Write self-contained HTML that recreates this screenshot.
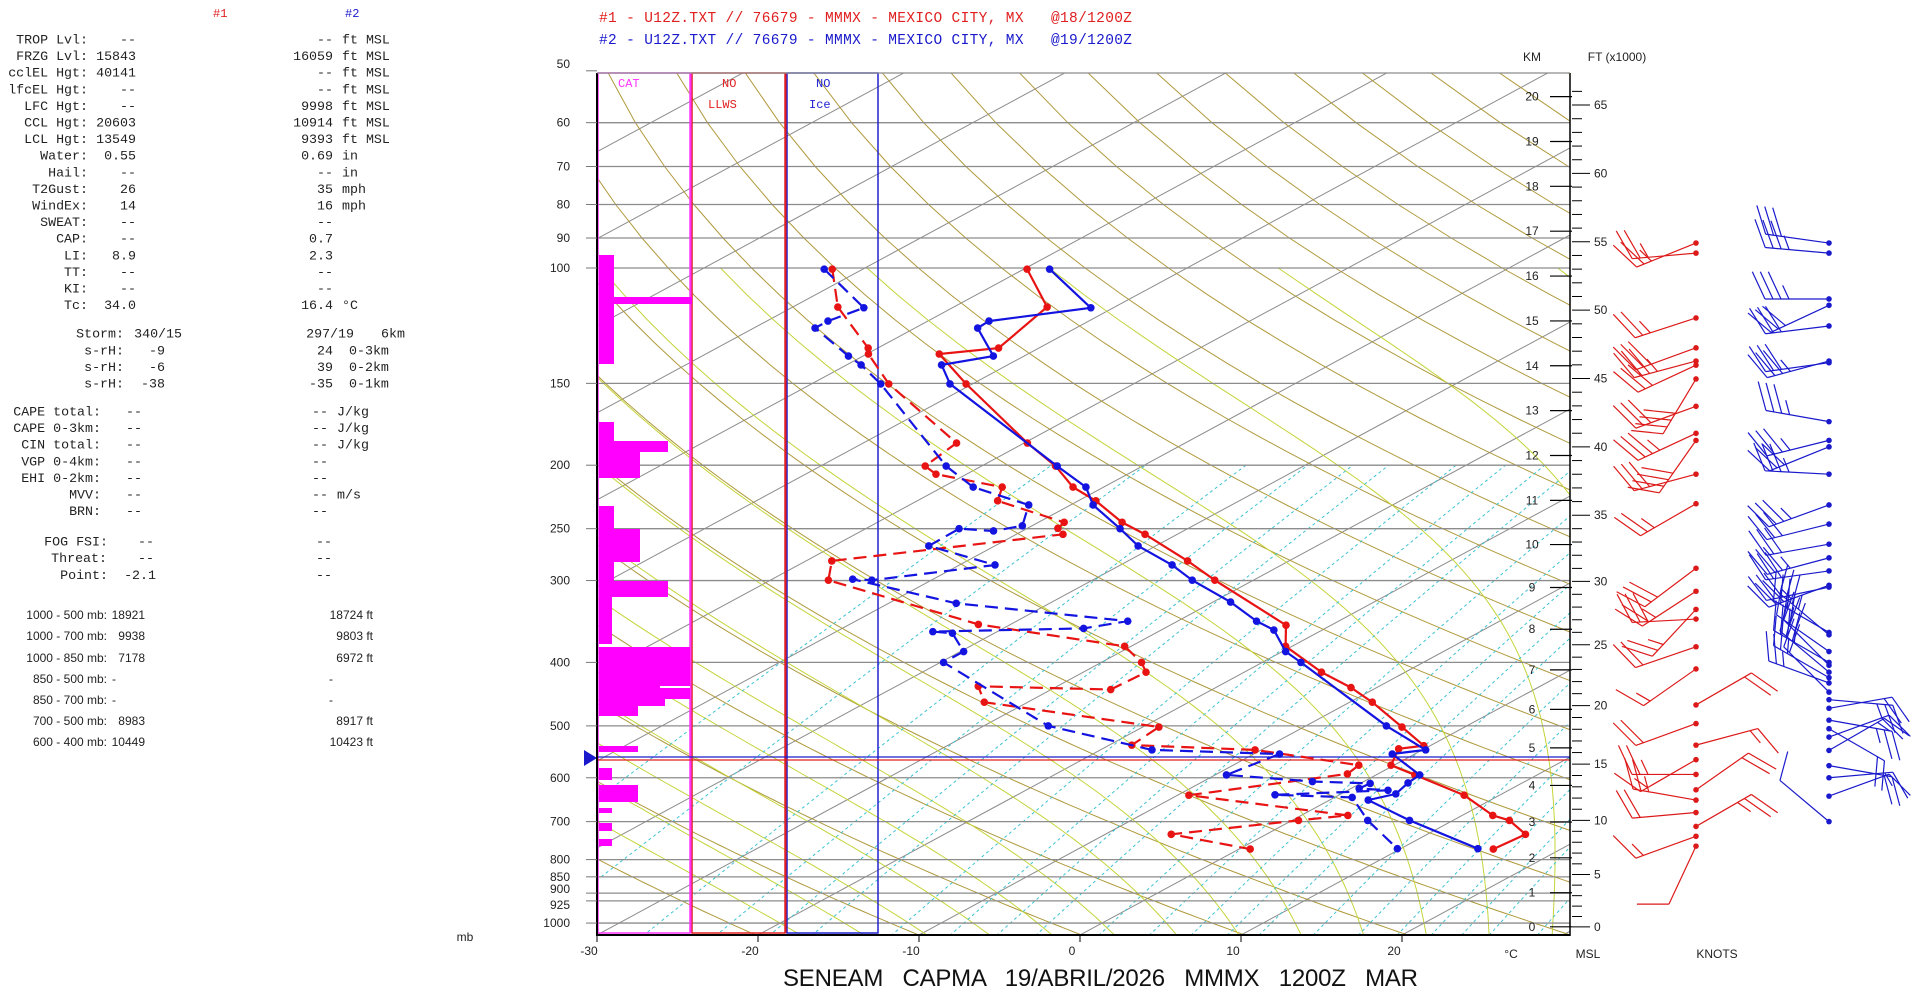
<!DOCTYPE html>
<html><head><meta charset="utf-8"><title>Skew-T MMMX</title>
<style>
html,body{margin:0;padding:0;background:#fff;}
#chart{position:absolute;left:0;top:0;}
</style></head>
<body>
<svg id="chart" width="1920" height="997" viewBox="0 0 1920 997" xmlns="http://www.w3.org/2000/svg">
<defs><clipPath id="plotclip"><rect x="598" y="73" width="972" height="862"/></clipPath></defs>
<g id="grid" clip-path="url(#plotclip)"></g>
<g id="overlay"></g>
<g id="profiles" clip-path="url(#plotclip)"></g>
<g id="axes"></g>
<g id="winds"></g>
<g id="panel" font-family="'Liberation Mono', monospace" font-size="13.3" fill="#222"></g>
</svg>
<script>
// ---------- data ----------
const pressureLevels = [50,60,70,80,90,100,150,200,250,300,400,500,600,700,800,850,900,925,1000];
const tempTicks = [-30,-20,-10,0,10,20];

const t1P = [100.4,114.7,132.5,135.3,150.3,185,200.6,216,226.7,244.5,255,280,299.6,351,378,414,437,460,502,536,542,574,594,638,685,697,732,771];
const t1T = [-79.8,-74.2,-72.5,-75.5,-70.4,-59.8,-55.4,-51.9,-48.9,-44.8,-42.0,-36.3,-32.4,-22.8,-20.4,-15.2,-11.6,-8.6,-3.9,-0.4,-1.6,-0.2,2.4,7.8,11.9,13.5,16.1,15.8];
const t2P = [100.4,115,120.5,123.5,136.3,140.6,150.3,200.6,216,230,250,265.6,284,299.6,323.6,346,357,385,400,500,544,552,594,611,635,649,697,770];
const t2T = [-78.4,-71.4,-76.2,-76.1,-71.9,-74.1,-71.4,-55.3,-51.1,-48.6,-44.2,-41.1,-36.8,-33.8,-28.9,-25.1,-23.0,-19.8,-17.6,-5.0,0.2,-1.4,2.7,2.9,3.4,2.4,7.3,14.8];
const d1P = [100.4,114.7,132.5,135.3,150.3,185,200.6,206.4,216,226.7,244.5,249.7,255,280,299.6,350,378,400,414,440,435,460,502,535,544,574,592,638,685,697,732,771];
const d1T = [-91.9,-87.2,-80.6,-79.9,-75.2,-64.2,-63.5,-61.9,-56.3,-55.0,-48.4,-48.1,-47.1,-58.4,-56.4,-42.0,-30.4,-27.5,-26.1,-26.3,-34.9,-32.7,-19.0,-18.6,-10.4,-2.2,-1.9,-9.3,2.9,0.4,-5.9,0.7];
const d2P = [100.4,115,120.5,123.5,136.3,140.6,150.3,200.6,216,230,247.5,252,250,265.6,284,299.6,298.6,325,346,355,359,361,385,400,500,544,552,594,608,612,623,627,637,643,697,770];
const d2T = [-92.4,-85.5,-86.2,-86.2,-80.9,-79.1,-75.7,-62.2,-58.1,-52.6,-50.6,-51.8,-54.2,-54.1,-47.8,-53.7,-55.0,-45.8,-33.1,-35.0,-44.0,-42.6,-39.8,-39.8,-26.0,-16.8,-8.4,-9.3,-3.2,0.6,0.5,2.5,-4.0,1.1,4.7,9.8];

const w1P = [91.6,94.9,119.2,132.4,138.7,140.7,147.7,162.6,178.8,183.3,206.4,229,287.3,311.5,332,343.5,378.6,409.3,464.5,496,535,563,593,626,649,678,712,737,763];
const w1D = [248,265,252,250,255,245,211,250,245,215,255,240,233,237,223,267,251,235,60,250,75,240,270,55,280,265,60,250,205];
const w1S = [25,25,25,30,35,30,40,30,35,40,30,25,30,25,25,30,20,15,20,20,15,15,25,20,25,20,25,15,10];
const w2P = [91.6,94.9,111.5,114,122.6,138.7,139.5,171.6,183.3,187.5,206.4,230,246,264,277,290,305,307,360,363,385,400,404,414,422,430,444,456,470,490,505,520,545,575,600,640,700];
const w2D = [278,275,270,245,263,255,262,280,256,248,273,250,256,260,255,262,250,258,300,310,305,300,315,310,300,290,315,95,80,100,120,70,60,100,85,70,310];
const w2S = [30,35,35,30,30,35,30,35,35,30,35,35,30,30,35,30,35,30,30,35,30,35,30,30,25,25,20,25,20,25,20,20,15,20,15,10,10];

const kmTicks = [0,1,2,3,4,5,6,7,8,9,10,11,12,13,14,15,16,17,18,19,20];
const ftMajor = [0,5,10,15,20,25,30,35,40,45,50,55,60,65];

// ---------- axis functions ----------
const PX0=598, PX1=1570, PY0=73, PY1=935;
function Y(p){return 268 + 284.5*Math.log(p/100);}
function X(T,p){return 1080 + 16.1*T + 1.85*(935 - Y(p));}
function pOfZ(z){ if(z<=11000) return 1013.25*Math.pow(1-2.25577e-5*z,5.25588); return 226.32*Math.exp(-(z-11000)/6341.6);}
const NS='http://www.w3.org/2000/svg';
function mk(tag,attrs,parent){const e=document.createElementNS(NS,tag);for(const k in attrs)e.setAttribute(k,attrs[k]);parent.appendChild(e);return e;}
function pts(arr){return arr.map(a=>a[0].toFixed(1)+','+a[1].toFixed(1)).join(' ');}

const grid=document.getElementById('grid');
for(let T=-130;T<=40;T+=10){
  const l=mk('line',{x1:X(T,1060),y1:Y(1060),x2:X(T,45),y2:Y(45),stroke:'#8c8c8c','stroke-width':1},grid);
  
  
}
for(let th=220;th<=520;th+=10){
  const a=[];for(let p=1060;p>=45;p-=10){a.push([X(th*Math.pow(p/1000,0.2857)-273.15,p),Y(p)]);}
  const l=mk('polyline',{points:pts(a),fill:'none',stroke:'#b09a3c','stroke-width':1},grid);
  
  
}
function es(Tc){return 6.112*Math.exp(17.67*Tc/(Tc+243.5));}
for(let tw=-20;tw<=36;tw+=4){
  let T=tw+273.15;const a=[];
  let Tlow=T;for(let p=1000;p<1060;p+=2){const tc=Tlow-273.15,e=es(tc),rs=0.622*e/(p-e);const dTdp=(287*Tlow+2.5e6*rs)/(1004+2.5e6*2.5e6*rs*0.622/(287*Tlow*Tlow))/p;Tlow+=dTdp*2;}
  a.push([X(Tlow-273.15,1060),Y(1060)]);
  for(let p=1000;p>=100;p-=2){
    if(p%10===0)a.push([X(T-273.15,p),Y(p)]);
    const tc=T-273.15,e=es(tc),rs=0.622*e/(p-e);
    const dTdp=(287*T+2.5e6*rs)/(1004+2.5e6*2.5e6*rs*0.622/(287*T*T))/p;
    T-=dTdp*2;
  }
  const l=mk('polyline',{points:pts(a),fill:'none',stroke:'#c4d43a','stroke-width':1},grid);
  
  
}
[0.1,0.2,0.4,0.6,0.8,1,1.5,2,2.5,3,4,5,6,7,8,10,12,14,16,18,20,24,28,32,36,40].forEach(w=>{
  const a=[];for(let p=1060;p>=200;p-=10){const e=p*w/(622+w);const L=Math.log(e/6.112);a.push([X(243.5*L/(17.67-L),p),Y(p)]);}
  const l=mk('polyline',{points:pts(a),fill:'none',stroke:'#3cc3d2','stroke-width':1,'stroke-dasharray':'3,3'},grid);
  
  
});
pressureLevels.forEach(p=>{
  const l=mk('line',{x1:PX0,y1:Y(p),x2:PX1,y2:Y(p),stroke:'#8c8c8c','stroke-width':1.3},grid);
  
  
});

// ---------- overlay boxes ----------
const ov=document.getElementById('overlay');
const boxes=[[598,690,'#ff33ff','cat-box'],[692,785,'#e02020','llws-box'],[787,878,'#2020d0','ice-box']];
boxes.forEach(b=>{
  const r=mk('rect',{x:b[0],y:73,width:b[1]-b[0],height:860,fill:'none',stroke:b[2],'stroke-width':1.5},ov);
  
  
});
mk('line',{x1:691,y1:73,x2:691,y2:933,stroke:'#ff33ff','stroke-width':1},ov);
mk('line',{x1:786,y1:73,x2:786,y2:933,stroke:'#e02020','stroke-width':1},ov);
const catBars=[[255,364,614],[297,304,692],[422,478,614],[441,452,668],[452,478,640],[506,597,614],[529,562,640],[581,597,668],[597,644,612],[647,699,690],[699,706,665],[706,716,638],[746,752,638],[768,780,612],[785,802,638],[808,813,612],[823,831,612],[839,846,612]];
catBars.forEach(c=>{
  const r=mk('rect',{x:599,y:c[0],width:c[2]-599,height:c[1]-c[0],fill:'#ff00ff'},ov);
  
  
});
mk('rect',{x:660,y:686,width:30,height:2,fill:'#fff'},ov);
function txt(parent,x,y,s,attrs,name){const t=mk('text',Object.assign({x:x,y:y},attrs||{}),parent);t.textContent=s;return t;}
const mono={'font-family':"'Liberation Mono', monospace",'font-size':12};
txt(ov,618,87,'CAT',Object.assign({fill:'#ff33ff'},mono),'cat-label');
txt(ov,722,87,'NO',Object.assign({fill:'#e02020'},mono),'llws-no');
txt(ov,708,108,'LLWS',Object.assign({fill:'#e02020'},mono),'llws-label');
txt(ov,816,87,'NO',Object.assign({fill:'#2020d0'},mono),'ice-no');
txt(ov,809,108,'Ice',Object.assign({fill:'#2020d0'},mono),'ice-label');
mk('line',{x1:597,y1:757,x2:PX1,y2:757,stroke:'#1a1acc','stroke-width':1.3},ov);
mk('line',{x1:597,y1:760,x2:PX1,y2:760,stroke:'#e02020','stroke-width':1.3},ov);
const tri=mk('polygon',{points:'584,750 597,758 584,766',fill:'#1a1acc'},ov);



// ---------- profiles ----------
const prof=document.getElementById('profiles');
function drawProfile(P,T,color,dash,name){
  const a=P.map((p,i)=>[X(T[i],p),Y(p)]);
  const l=mk('polyline',{points:pts(a),fill:'none',stroke:color,'stroke-width':2.2},prof);
  if(dash)l.setAttribute('stroke-dasharray','13,7');
  
  
  a.forEach(q=>{const c=mk('circle',{cx:q[0],cy:q[1],r:3.8,fill:color},prof);
    
    });
}
drawProfile(d1P,d1T,'#e81414',true,'dewpoint-1');
drawProfile(d2P,d2T,'#1414e0',true,'dewpoint-2');
drawProfile(t1P,t1T,'#e81414',false,'temperature-1');
drawProfile(t2P,t2T,'#1414e0',false,'temperature-2');

// ---------- axes ----------
const ax=document.getElementById('axes');
mk('line',{x1:597,y1:73,x2:597,y2:936,stroke:'#000','stroke-width':2},ax);
mk('line',{x1:596,y1:935,x2:PX1,y2:935,stroke:'#000','stroke-width':2},ax);
mk('line',{x1:PX1,y1:73,x2:PX1,y2:936,stroke:'#000','stroke-width':1.5},ax);
mk('line',{x1:597,y1:73,x2:PX1,y2:73,stroke:'#8c8c8c','stroke-width':1.3},ax);
const sans={'font-family':"'Liberation Sans', sans-serif",'font-size':12,fill:'#222'};
const labelShift={50:-3,900:0,925:8};
pressureLevels.forEach(p=>{
  mk('line',{x1:586,y1:Y(p),x2:597,y2:Y(p),stroke:'#777','stroke-width':1},ax);
  const sh=(p in labelShift)?labelShift[p]:4;
  txt(ax,570,Y(p)+sh,String(p),Object.assign({'text-anchor':'end'},sans),'pressure-label');
});
tempTicks.forEach(t=>{
  const x=1080+16.1*t;
  mk('line',{x1:x,y1:935,x2:x,y2:942,stroke:'#000','stroke-width':1},ax);
  txt(ax,x-8,955,String(t),Object.assign({'text-anchor':'middle'},sans),'temp-tick-label');
});
txt(ax,1511,958,'°C',Object.assign({'text-anchor':'middle'},sans),'temp-unit');
txt(ax,1588,958,'MSL',Object.assign({'text-anchor':'middle'},sans),'msl-label');
txt(ax,1717,958,'KNOTS',Object.assign({'text-anchor':'middle'},sans),'knots-label');
txt(ax,465,941,'mb',Object.assign({'text-anchor':'middle'},sans),'mb-label');
txt(ax,1532,61,'KM',Object.assign({'text-anchor':'middle','font-size':10},sans),'km-label');
txt(ax,1617,61,'FT (x1000)',Object.assign({'text-anchor':'middle','font-size':10},sans),'ft-label');
kmTicks.forEach(k=>{
  const y=Y(pOfZ(k*1000));
  mk('line',{x1:1550,y1:y,x2:1572,y2:y,stroke:'#000','stroke-width':1.2},ax);
  txt(ax,1532,y+4,String(k),Object.assign({'text-anchor':'middle','font-size':11},sans),'km-tick-label');
});
for(let f=0;f<=66;f++){
  const y=Y(pOfZ(f*304.8));
  const major=f%5===0;
  mk('line',{x1:1572,y1:y,x2:major?1590:1582,y2:y,stroke:'#000','stroke-width':1},ax);
}
ftMajor.forEach(f=>{
  const y=Y(pOfZ(f*1000*0.3048));
  txt(ax,1594,y+4,String(f),Object.assign({'font-size':11},sans),'ft-tick-label');
});
const tmono={'font-family':"'Liberation Mono', monospace",'font-size':14.5};
txt(ax,599,22,'#1 - U12Z.TXT // 76679 - MMMX - MEXICO CITY, MX   @18/1200Z',Object.assign({fill:'#e02020',textLength:533},tmono),'title-1').setAttribute('style','white-space:pre');
txt(ax,599,44,'#2 - U12Z.TXT // 76679 - MMMX - MEXICO CITY, MX   @19/1200Z',Object.assign({fill:'#1a1acc',textLength:533},tmono),'title-2').setAttribute('style','white-space:pre');
txt(ax,783,986,'SENEAM   CAPMA   19/ABRIL/2026   MMMX   1200Z   MAR',{'font-family':"'Liberation Sans', sans-serif",'font-size':24,fill:'#111',textLength:635,style:'white-space:pre'},'footer-title');

// ---------- wind barbs ----------
const wg=document.getElementById('winds');
function barb(x0,p,dir,spd,color,len,flen){
  const y0=Y(p);const r=dir*Math.PI/180;
  const ux=Math.sin(r),uy=-Math.cos(r);
  const ex=x0+ux*len,ey=y0+uy*len;
  const g=mk('g',{stroke:color,'stroke-width':1.2,fill:color},wg);
  
  
  mk('line',{x1:x0,y1:y0,x2:ex,y2:ey},g);
  const a=65*Math.PI/180;
  const fx=ux*Math.cos(a)-uy*Math.sin(a), fy=ux*Math.sin(a)+uy*Math.cos(a);
  let s=Math.round(spd/5)*5, pos=0;
  while(s>=50){const bx=ex-ux*pos,by=ey-uy*pos;mk('polygon',{points:`${bx},${by} ${bx+fx*flen},${by+fy*flen} ${bx-ux*8},${by-uy*8}`},g);pos+=10;s-=50;}
  while(s>=10){const bx=ex-ux*pos,by=ey-uy*pos;mk('line',{x1:bx,y1:by,x2:bx+fx*flen,y2:by+fy*flen},g);pos+=8;s-=10;}
  if(s>=5){if(pos===0)pos=8;const bx=ex-ux*pos,by=ey-uy*pos;mk('line',{x1:bx,y1:by,x2:bx+fx*flen/2,y2:by+fy*flen/2},g);}
  mk('circle',{cx:x0,cy:y0,r:2.8,stroke:'none'},g);
}
w1P.forEach((p,i)=>barb(1696,p,w1D[i],w1S[i],'#dd1a1a',64,32));
w2P.forEach((p,i)=>barb(1829,p,w2D[i],w2S[i],'#1a1acc',64,30));

// ---------- left panel ----------
const pn=document.getElementById('panel');
function row(y,label,lx,v1,v1x,v2,v2x,unit,ux){
  txt(pn,lx,y,label,{'text-anchor':'end',style:'white-space:pre'},'index-label');
  if(v1!=='')txt(pn,v1x,y,v1,{'text-anchor':'end'},'value-1');
  if(v2!=='')txt(pn,v2x,y,v2,{'text-anchor':'end'},'value-2');
  if(unit)txt(pn,ux,y,unit,{style:'white-space:pre'},'unit');
}
txt(pn,213,17,'#1',{fill:'#e02020','font-size':12},'col1-header');
txt(pn,345,17,'#2',{fill:'#1a1acc','font-size':12},'col2-header');
const sec1=[['TROP Lvl:','--','--','ft MSL'],['FRZG Lvl:','15843','16059','ft MSL'],['cclEL Hgt:','40141','--','ft MSL'],['lfcEL Hgt:','--','--','ft MSL'],['LFC Hgt:','--','9998','ft MSL'],['CCL Hgt:','20603','10914','ft MSL'],['LCL Hgt:','13549','9393','ft MSL'],['Water:','0.55','0.69','in'],['Hail:','--','--','in'],['T2Gust:','26','35','mph'],['WindEx:','14','16','mph'],['SWEAT:','--','--',''],['CAP:','--','0.7',''],['LI:','8.9','2.3',''],['TT:','--','--',''],['KI:','--','--',''],['Tc:','34.0','16.4','°C']];
sec1.forEach((r,i)=>row(43.5+i*16.6,r[0],88,r[1],136,r[2],333,r[3],342));
row(337.5,'Storm:',124,'340/15',182,'297/19',354,'6km',381);
[['-9','24','0-3km'],['-6','39','0-2km'],['-38','-35','0-1km']].forEach((r,i)=>row(354.5+i*16.6,'s-rH:',124,r[0],165,r[1],333,r[2],349));
const sec3=[['CAPE total:','J/kg'],['CAPE 0-3km:','J/kg'],['CIN total:','J/kg'],['VGP 0-4km:',''],['EHI 0-2km:',''],['MVV:','m/s'],['BRN:','']];
sec3.forEach((r,i)=>row(415.5+i*16.6,r[0],101,'--',142,'--',328,r[1],337));
row(545.5,'FOG FSI:',108,'--',154,'--',332,'',0);
row(562,'Threat:',107,'--',154,'--',332,'',0);
row(579,'Point:',108,'-2.1',156,'--',332,'',0);
const layers=[['1000 - 500 mb:','18921','18724 ft'],['1000 - 700 mb:','9938','9803 ft'],['1000 - 850 mb:','7178','6972 ft'],['850 - 500 mb:','-','-'],['850 - 700 mb:','-','-'],['700 - 500 mb:','8983','8917 ft'],['600 - 400 mb:','10449','10423 ft']];
const ly=[615,636,658,679,700,721,742];
layers.forEach((r,i)=>{
  const a={'font-family':"'Liberation Sans', sans-serif",'font-size':12};
  txt(pn,107,ly[i]+4,r[0],Object.assign({'text-anchor':'end'},a),'layer-label');
  if(r[1]==='-'){txt(pn,112,ly[i]+4,'-',a,'layer-value-1');txt(pn,333,ly[i]+4,'-',Object.assign({'text-anchor':'end'},a),'layer-value-2');}
  else{txt(pn,145,ly[i]+4,r[1],Object.assign({'text-anchor':'end'},a),'layer-value-1');txt(pn,373,ly[i]+4,r[2],Object.assign({'text-anchor':'end'},a),'layer-value-2');}
});
</script>
</body></html>
